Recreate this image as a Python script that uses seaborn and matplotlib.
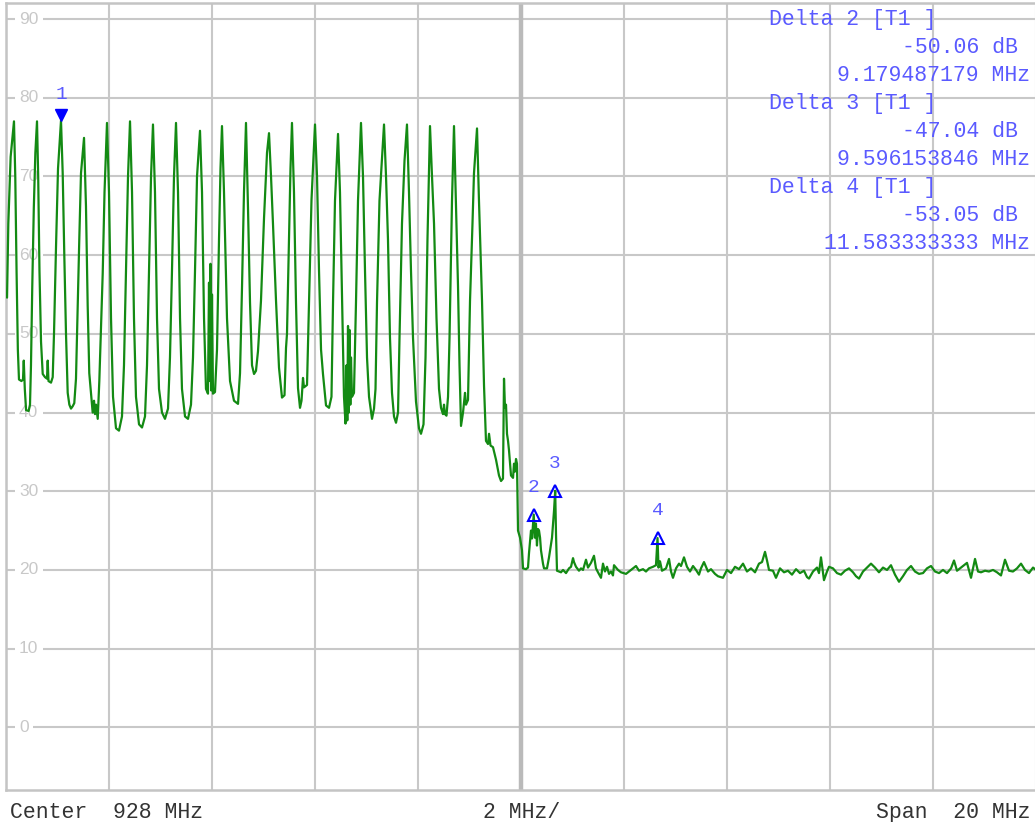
import numpy as np
import pandas as pd
import matplotlib
matplotlib.use("Agg")
import matplotlib.pyplot as plt
import matplotlib.transforms as mtransforms
import seaborn as sns

# ---------------- data ----------------
center_mhz = 928.0
span_mhz = 20.0
div_mhz = 2.0
ref_ticks = [0, 10, 20, 30, 40, 50, 60, 70, 80, 90]

# oscillating band (918 .. 927.15 MHz)
band_mhz = [
    918.020, 918.045, 918.090, 918.155, 918.180, 918.205, 918.230, 918.252, 918.300, 918.330,
    918.345, 918.365, 918.390, 918.440, 918.466, 918.485, 918.510, 918.540, 918.570, 918.602,
    918.625, 918.650, 918.680, 918.713, 918.757, 918.796, 918.810, 918.825, 918.874, 918.907,
    918.932, 918.971, 919.010, 919.068,
    919.101, 919.132, 919.165, 919.198, 919.230, 919.262, 919.295, 919.326, 919.359, 919.392,
    919.423, 919.456, 919.515,
    919.553, 919.586, 919.617, 919.683, 919.709, 919.728, 919.748, 919.781, 919.812, 919.878,
    919.913, 919.961,
    920.000, 920.039, 920.078, 920.136, 920.194, 920.252, 920.291, 920.330, 920.369, 920.408,
    920.447, 920.485, 920.524, 920.583, 920.641, 920.699, 920.738, 920.777, 920.816, 920.854,
    920.893, 920.932, 920.971, 921.029, 921.087, 921.146, 921.184, 921.223, 921.262, 921.301,
    921.340, 921.379, 921.417, 921.476, 921.534, 921.592, 921.631, 921.670, 921.709, 921.767,
    921.806, 921.845, 921.883, 921.922, 921.942, 921.955, 921.971, 921.986, 922.000, 922.019,
    922.058, 922.097, 922.136, 922.165, 922.194,
    922.233, 922.291, 922.350, 922.427, 922.505, 922.544, 922.583, 922.621, 922.660,
    922.699, 922.738, 922.777, 922.816, 922.854, 922.893, 922.951, 923.010, 923.068, 923.107,
    923.146, 923.184, 923.243, 923.301, 923.359, 923.408, 923.437, 923.456, 923.495, 923.524,
    923.553,
    923.592, 923.631, 923.670, 923.709, 923.738, 923.767, 923.786, 923.845, 923.883, 923.932,
    924.000,
    924.039, 924.078, 924.117, 924.155, 924.214, 924.272, 924.320, 924.350, 924.388, 924.447,
    924.485, 924.524, 924.563, 924.592, 924.612, 924.627, 924.641, 924.654, 924.670, 924.686,
    924.699, 924.718, 924.757, 924.796, 924.835, 924.893,
    924.932, 924.971, 925.010, 925.049, 925.107, 925.146, 925.175, 925.204, 925.252, 925.340,
    925.379, 925.417, 925.456, 925.495, 925.534, 925.573, 925.612, 925.641, 925.689, 925.738,
    925.786,
    925.825, 925.864, 925.903, 925.961, 926.019, 926.058, 926.107, 926.146, 926.184, 926.233,
    926.272, 926.311, 926.359, 926.408, 926.447, 926.485, 926.505, 926.524, 926.553, 926.583,
    926.612, 926.660, 926.699,
    926.738, 926.777, 926.806, 926.835, 926.874, 926.893, 926.913, 926.932, 926.971, 927.010,
    927.058, 927.087, 927.146,
]
band_db = [
    54.6, 64.0, 72.5, 77.0, 70.0, 58.0, 48.0, 44.2, 44.0, 44.2,
    46.6, 43.0, 40.3, 40.2, 41.0, 46.0, 56.0, 66.0, 73.0, 77.0,
    70.0, 58.0, 49.0, 44.9, 44.5, 44.3, 46.6, 44.0, 43.8, 44.5,
    50.0, 61.0, 71.0, 77.1,
    70.4, 60.0, 50.0, 42.5, 41.0, 40.5, 40.8, 41.2, 44.3, 53.6,
    62.0, 70.4, 74.9,
    66.2, 53.6, 45.0, 40.0, 41.5, 39.8, 41.0, 39.2, 44.0, 57.7,
    68.0, 76.8,
    68.0, 52.0, 42.0, 38.0, 37.7, 39.5, 46.0, 58.0, 70.0, 77.0,
    68.0, 52.0, 42.0, 38.5, 38.1, 39.5, 46.0, 58.0, 70.0, 76.6,
    68.0, 52.0, 43.0, 40.0, 39.2, 40.5, 47.0, 58.0, 70.0, 76.8,
    68.0, 52.0, 43.0, 39.5, 39.2, 41.0, 47.0, 58.0, 70.0, 75.8,
    68.0, 52.0, 43.0, 42.4, 56.5, 44.0, 58.9, 42.8, 55.0, 42.4,
    42.6, 48.0, 62.0, 71.0, 76.4,
    68.0, 52.0, 44.0, 41.5, 41.1, 45.0, 56.0, 68.0, 76.8,
    66.0, 54.0, 46.0, 44.9, 45.3, 47.8, 54.2, 64.7, 73.0, 75.5,
    70.0, 64.0, 54.2, 45.7, 41.9, 42.2, 48.2, 50.0, 62.0, 71.0,
    76.8,
    68.0, 54.0, 43.1, 40.6, 41.5, 44.4, 43.2, 43.5, 54.0, 67.0,
    76.6,
    70.0, 58.0, 48.0, 44.9, 40.9, 40.6, 42.0, 54.0, 66.9, 75.4,
    68.0, 55.0, 42.0, 38.6, 46.0, 39.0, 51.0, 40.0, 50.5, 41.0,
    47.0, 42.0, 42.5, 54.0, 66.9, 76.8,
    70.0, 58.0, 47.0, 42.0, 39.2, 40.5, 43.0, 54.0, 66.9, 76.6,
    70.0, 62.0, 49.5, 42.5, 39.5, 38.7, 40.0, 49.5, 64.0, 72.0,
    76.6,
    68.0, 58.0, 49.5, 41.4, 38.0, 37.3, 38.5, 47.0, 62.0, 76.4,
    70.0, 64.0, 52.0, 43.0, 40.6, 39.8, 41.0, 39.8, 39.6, 42.0,
    49.5, 66.9, 76.4,
    66.0, 56.0, 46.0, 38.3, 40.0, 41.2, 42.5, 41.0, 41.6, 54.2,
    64.0, 70.4, 76.1,
]

# band edge / transition (927.15 .. 928.7 MHz)
edge_mhz = [
    927.184, 927.243, 927.282, 927.320, 927.359, 927.379, 927.408, 927.456, 927.515, 927.573,
    927.612, 927.650, 927.670, 927.689, 927.709, 927.728, 927.748, 927.767, 927.806, 927.845,
    927.864, 927.883, 927.903, 927.922, 927.942, 927.981, 928.019, 928.039, 928.097, 928.136,
    928.155, 928.194, 928.214, 928.247, 928.270, 928.290, 928.310, 928.330, 928.350, 928.370,
    928.388, 928.427, 928.447, 928.505, 928.544, 928.602, 928.641, 928.664, 928.680, 928.699,
]
edge_db = [
    66.9, 54.2, 43.4, 36.4, 36.0, 37.3, 35.8, 35.6, 34.0, 32.0,
    31.3, 31.6, 44.3, 40.6, 41.0, 37.3, 36.4, 35.2, 32.0, 31.7,
    33.5, 32.5, 34.1, 33.5, 25.0, 24.1, 22.5, 20.2, 20.1, 20.3,
    22.1, 25.0, 24.0, 27.04, 24.1, 25.9, 23.1, 25.2, 25.0, 24.1,
    22.5, 20.8, 20.2, 20.2, 21.6, 24.1, 27.5, 30.06, 24.5, 19.9,
]

# noise floor (928.7 .. 938 MHz)
floor_mhz = [
    928.777, 928.816, 928.874, 928.932, 928.971, 929.010, 929.029, 929.068, 929.126, 929.165,
    929.204, 929.262, 929.301, 929.359, 929.417, 929.456, 929.495, 929.553, 929.592, 929.631,
    929.670, 929.709, 929.748, 929.786, 929.806, 929.883, 929.942, 930.039, 930.097, 930.194,
    930.233, 930.291, 930.369, 930.427, 930.485, 930.563, 930.621, 930.651, 930.670, 930.699,
    930.738, 930.816, 930.874, 930.913, 930.951, 931.010, 931.068, 931.107, 931.165, 931.223,
    931.282, 931.340, 931.398, 931.456, 931.495, 931.553, 931.631, 931.689, 931.767, 931.825,
    931.922, 932.000, 932.078, 932.155, 932.233, 932.311, 932.388, 932.466, 932.544, 932.621,
    932.680, 932.738, 932.777, 932.816, 932.893, 932.951, 933.029, 933.107, 933.184, 933.262,
    933.340, 933.417, 933.495, 933.553, 933.592, 933.670, 933.748, 933.786, 933.825, 933.883,
    933.942, 933.981, 934.058, 934.136, 934.214, 934.291, 934.369, 934.447, 934.505, 934.563,
    934.641, 934.718, 934.796, 934.874, 934.951, 935.029, 935.107, 935.184, 935.262, 935.340,
    935.417, 935.495, 935.573, 935.650, 935.728, 935.806, 935.883, 935.961, 936.039, 936.117,
    936.194, 936.272, 936.350, 936.408, 936.466, 936.544, 936.602, 936.660, 936.738, 936.816,
    936.874, 936.932, 937.010, 937.087, 937.165, 937.243, 937.320, 937.398, 937.476, 937.553,
    937.631, 937.709, 937.786, 937.864, 937.942, 938.000,
]
floor_db = [
    19.7, 20.0, 19.6, 20.2, 20.4, 21.5, 21.0, 20.4, 19.9, 20.2,
    20.0, 21.3, 20.3, 20.9, 21.8, 20.2, 19.7, 19.0, 20.8, 19.8,
    20.4, 19.5, 19.8, 19.3, 20.6, 20.0, 19.7, 19.5, 19.8, 20.3,
    20.5, 19.9, 20.1, 19.8, 20.2, 20.4, 20.6, 24.05, 20.3, 21.1,
    19.9, 20.2, 21.4, 19.8, 19.0, 20.2, 20.8, 20.5, 21.6, 20.4,
    19.8, 20.5, 20.0, 19.4, 20.2, 21.0, 19.8, 20.1, 19.5, 19.2,
    19.0, 20.0, 19.6, 20.4, 20.1, 20.8, 19.8, 20.2, 19.7, 20.8,
    21.0, 22.3, 21.2, 20.0, 19.9, 19.0, 20.2, 19.7, 19.9, 19.4,
    20.1, 19.6, 19.9, 19.1, 18.9, 19.8, 20.3, 19.6, 21.6, 18.7,
    19.8, 20.4, 20.2, 19.6, 19.4, 19.9, 20.2, 19.7, 19.2, 18.9,
    19.8, 20.3, 20.8, 20.3, 19.7, 20.3, 20.0, 20.6, 19.4, 18.5,
    19.2, 20.0, 20.5, 19.8, 19.5, 19.6, 20.2, 20.5, 19.8, 19.6,
    20.0, 19.6, 20.2, 21.2, 19.9, 20.3, 20.6, 20.9, 19.0, 21.4,
    19.8, 19.7, 19.9, 19.8, 20.0, 19.7, 19.3, 21.3, 19.9, 19.8,
    20.2, 20.8, 20.0, 19.6, 20.3, 20.0,
]

# markers
m1_mhz = 919.068
m1_db = 77.1
delta_ids = [2, 3, 4]
delta_mhz = [9.179487179, 9.596153846, 11.583333333]
delta_db = [-50.06, -47.04, -53.05]

# ---------------- figure ----------------
sns.set_theme(style="white")
plt.rcParams["font.family"] = ["Liberation Sans", "DejaVu Sans"]

W, H = 1035, 822
fig = plt.figure(figsize=(W / 100, H / 100), dpi=100)
fig.patch.set_facecolor("white")
ax = fig.add_axes([6 / W, (H - 790.3) / H, 1030 / W, 787 / H])
ax.set_facecolor("white")

fmin = center_mhz - span_mhz / 2
fmax = center_mhz + span_mhz / 2
ax.set_xlim(fmin, fmax)
ax.set_ylim(-8, 92)
ax.set_xticks(np.arange(fmin, fmax + 0.001, div_mhz))
ax.set_yticks(ref_ticks)
ax.tick_params(length=0, labelbottom=False, labelleft=False)
ax.set_axisbelow(True)
ax.grid(True, color="#c8c8c8", lw=1.5)
ax.axvline(center_mhz, color="#bababa", lw=3.2, zorder=0.6)
for side in ["left", "top", "bottom"]:
    ax.spines[side].set_color("#c4c4c4")
    ax.spines[side].set_linewidth(1.8)
ax.spines["right"].set_visible(False)

# y level labels inside the grid
ytr = mtransforms.blended_transform_factory(ax.transAxes, ax.transData)
for v in ref_ticks:
    ax.text(13 / 1030, v, str(v), transform=ytr, ha="left", va="center",
            color="#c8c8c8", fontsize=12.5,
            bbox=dict(boxstyle="square,pad=0.25", fc="white", ec="none"),
            zorder=1.5)

# trace
trace = pd.DataFrame({
    "mhz": band_mhz + edge_mhz + floor_mhz,
    "db": band_db + edge_db + floor_db,
})
sns.lineplot(data=trace, x="mhz", y="db", ax=ax, color="#138a13", lw=1.6,
             estimator=None, sort=False, zorder=3)
ax.set_xlabel("")
ax.set_ylabel("")

# marker 1 (filled, above the peak)
mk_col = "#0000ff"
lbl_col = "#5a5aff"
up6 = mtransforms.offset_copy(ax.transData, fig=fig, x=0, y=6, units="dots")
ax.plot([m1_mhz], [m1_db], marker="v", ms=9, color=mk_col, transform=up6,
        zorder=5, clip_on=False)
ax.annotate("1", (m1_mhz, m1_db), xytext=(0, 18.7), textcoords="offset points",
            ha="center", va="center", color=lbl_col, fontsize=14,
            family="Liberation Mono", zorder=5)

# delta markers (open triangles)
for i, dm, dd in zip(delta_ids, delta_mhz, delta_db):
    f = m1_mhz + dm
    lv = m1_db + dd
    ax.plot([f], [lv], marker="^", ms=8, mfc="none", mec=mk_col, mew=1.5,
            ls="none", zorder=5)
    ax.annotate(str(i), (f, lv), xytext=(0, 19.5), textcoords="offset points",
                ha="center", va="center", color=lbl_col, fontsize=14,
                family="Liberation Mono", zorder=5)

# delta readouts (upper right)
mono = "Liberation Mono"
fs_mono = 15.5
for k, (i, dm, dd) in enumerate(zip(delta_ids, delta_mhz, delta_db)):
    base = 25 + 84 * k
    fig.text(769 / W, 1 - base / H, f"Delta {i} [T1 ]", ha="left", va="baseline",
             color=lbl_col, fontsize=fs_mono, family=mono)
    fig.text(1018 / W, 1 - (base + 28) / H, f"{dd:.2f} dB", ha="right", va="baseline",
             color=lbl_col, fontsize=fs_mono, family=mono)
    fig.text(1030 / W, 1 - (base + 56) / H, f"{dm:.9f} MHz", ha="right", va="baseline",
             color=lbl_col, fontsize=fs_mono, family=mono)

# bottom annotations
fig.text(10 / W, 1 - 818 / H, f"Center  {center_mhz:.0f} MHz", ha="left", va="baseline",
         color="#333333", fontsize=fs_mono, family=mono)
fig.text(483 / W, 1 - 818 / H, f"{div_mhz:.0f} MHz/", ha="left", va="baseline",
         color="#333333", fontsize=fs_mono, family=mono)
fig.text(1030 / W, 1 - 818 / H, f"Span  {span_mhz:.0f} MHz", ha="right", va="baseline",
         color="#333333", fontsize=fs_mono, family=mono)

fig.savefig("out.png", dpi=100, facecolor="white")
